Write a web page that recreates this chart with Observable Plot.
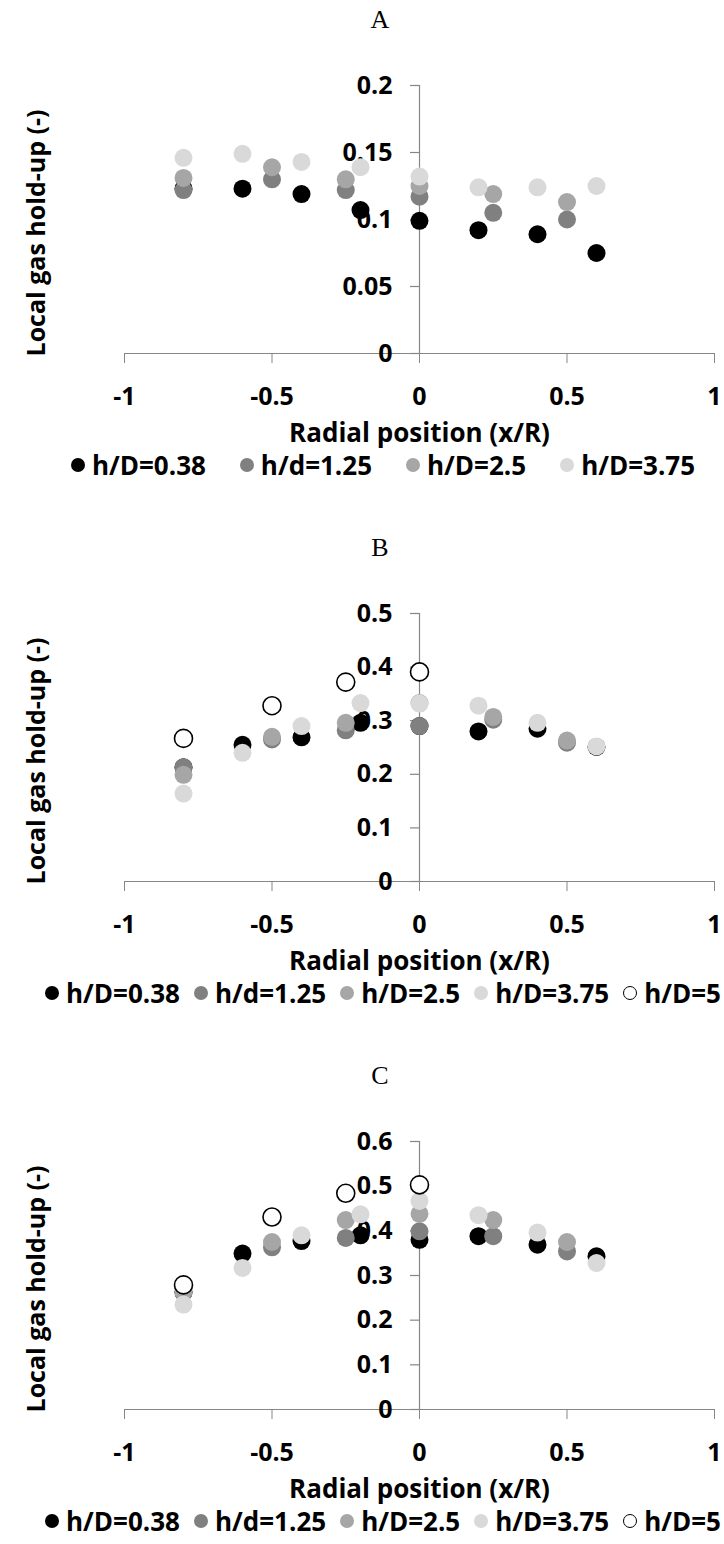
<!DOCTYPE html>
<html>
<head>
<meta charset="utf-8">
<script src="https://cdn.jsdelivr.net/npm/d3@7"></script>
<script src="https://cdn.jsdelivr.net/npm/@observablehq/plot@0.6"></script>
<style>
  html, body { margin: 0; padding: 0; background: #fff; }
  #root { position: relative; width: 724px; height: 1544px; overflow: hidden; background: #fff; }
  .panel { position: absolute; left: 0; width: 724px; height: 488px; }
  .ptitle { position: absolute; left: 0; top: 0; width: 760px; height: 40px; line-height: 40px; text-align: center;
            font-family: "Liberation Serif", "Times New Roman", serif; font-size: 26px; color: #000; }
  .ytitle { position: absolute; left: 35px; top: 233px; width: 0; height: 0; }
  .ytitle span { position: absolute; left: 0; top: 0; transform: translate(-50%, -50%) rotate(-90deg);
            font-family: "Open Sans", sans-serif; font-weight: bold; font-size: 25px; color: #000; white-space: nowrap; line-height: 30px; }
  .legend { position: absolute; left: 0; top: 450px; width: 766px; height: 30px; line-height: 30px; display: flex; justify-content: center;
            align-items: center; font-family: "Open Sans", sans-serif; font-weight: bold; font-size: 26px; color: #000; white-space: nowrap; }
  .item { display: flex; align-items: center; gap: 7px; }
  .sw { display: inline-block; width: 14px; height: 14px; border-radius: 50%; box-sizing: border-box; }
</style>
</head>
<body>
<div id="root"></div>
<script>
// ---- data ----
const xTicks = [-1, -0.5, 0, 0.5, 1];
const seriesNames = ["h/D=0.38", "h/d=1.25", "h/D=2.5", "h/D=3.75", "h/D=5"];
const seriesFill = ["#000000", "#808080", "#a6a6a6", "#d9d9d9", "#ffffff"];
const seriesStroke = ["none", "none", "none", "none", "#000000"];

// radial positions of each series
const xFine = [-0.8, -0.6, -0.4, -0.2, 0, 0.2, 0.4, 0.6];   // h/D=0.38 and h/D=3.75
const xCoarse = [-0.8, -0.5, -0.25, 0, 0.25, 0.5];          // h/d=1.25 and h/D=2.5
const xOpen = [-0.8, -0.5, -0.25, 0];                        // h/D=5

// Panel A
const yTicksA = [0, 0.05, 0.1, 0.15, 0.2];
const A_038 = [0.123, 0.123, 0.119, 0.107, 0.099, 0.092, 0.089, 0.075];
const A_125 = [0.122, 0.130, 0.122, 0.117, 0.105, 0.100];
const A_25  = [0.131, 0.139, 0.130, 0.125, 0.119, 0.113];
const A_375 = [0.146, 0.149, 0.143, 0.139, 0.132, 0.124, 0.124, 0.125];

// Panel B
const yTicksB = [0, 0.1, 0.2, 0.3, 0.4, 0.5];
const B_038 = [0.213, 0.255, 0.269, 0.296, 0.290, 0.280, 0.285, 0.251];
const B_125 = [0.213, 0.265, 0.282, 0.290, 0.302, 0.259];
const B_25  = [0.199, 0.270, 0.296, 0.333, 0.307, 0.263];
const B_375 = [0.164, 0.240, 0.290, 0.333, 0.332, 0.328, 0.296, 0.252];
const B_5   = [0.267, 0.328, 0.372, 0.391];

// Panel C
const yTicksC = [0, 0.1, 0.2, 0.3, 0.4, 0.5, 0.6];
const C_038 = [0.262, 0.349, 0.377, 0.390, 0.380, 0.388, 0.369, 0.343];
const C_125 = [0.262, 0.363, 0.384, 0.399, 0.388, 0.354];
const C_25  = [0.264, 0.375, 0.424, 0.438, 0.424, 0.375];
const C_375 = [0.235, 0.317, 0.390, 0.437, 0.467, 0.435, 0.396, 0.328];
const C_5   = [0.279, 0.431, 0.484, 0.503];

const AXIS = "#868686";
const FONT = "'Open Sans', sans-serif";

function rows(xs, ys) { return ys.map((v, i) => ({x: xs[i], y: v})); }

function makePanel(top, title, series, yTicks, nLegend, legendGap) {
  const panel = document.createElement("div");
  panel.className = "panel";
  panel.style.top = top + "px";

  const t = document.createElement("div");
  t.className = "ptitle";
  t.textContent = title;
  panel.appendChild(t);

  const yMax = yTicks[yTicks.length - 1];
  const dotMarks = series.map((s, k) => Plot.dot(s, {
    x: "x", y: "y", r: 9,
    fill: seriesFill[k], stroke: seriesStroke[k], strokeWidth: 1.6
  }));

  const chart = Plot.plot({
    width: 724, height: 410,
    marginTop: 45, marginBottom: 97, marginLeft: 124, marginRight: 10,
    x: {domain: [-1, 1], axis: null},
    y: {domain: [0, yMax], axis: null},
    style: {fontFamily: FONT, fontSize: "25px", fontWeight: "bold", color: "black", background: "white", overflow: "visible"},
    marks: [
      Plot.ruleY([0], {stroke: AXIS, strokeWidth: 1.2}),
      Plot.ruleX([0], {stroke: AXIS, strokeWidth: 1.2}),
      Plot.axisX(xTicks, {tickSize: 10, tickPadding: 24, stroke: AXIS, label: null,
                          tickFormat: d => String(d), fontSize: 25, fontWeight: "bold"}),
      Plot.ruleY(yTicks, {x1: 0, x2: 0, insetLeft: -9, stroke: AXIS, strokeWidth: 1.2}),
      Plot.text(yTicks, {x: 0, y: d => d, text: d => String(d), textAnchor: "end", dx: -27,
                         fontSize: 25, fontWeight: "bold", fill: "black"}),
      Plot.text(["Radial position (x/R)"], {frameAnchor: "bottom", dy: 80, lineAnchor: "middle",
                         fontSize: 26, fontWeight: "bold", fill: "black"}),
      ...dotMarks
    ]
  });
  chart.style.position = "absolute";
  chart.style.left = "0px";
  chart.style.top = "40px";
  panel.appendChild(chart);

  const yt = document.createElement("div");
  yt.className = "ytitle";
  const ys = document.createElement("span");
  ys.textContent = "Local gas hold-up (-)";
  yt.appendChild(ys);
  panel.appendChild(yt);

  const lg = document.createElement("div");
  lg.className = "legend";
  lg.style.gap = legendGap + "px";
  for (let k = 0; k < nLegend; k++) {
    const it = document.createElement("span");
    it.className = "item";
    const sw = document.createElement("span");
    sw.className = "sw";
    sw.style.background = seriesFill[k];
    if (seriesStroke[k] !== "none") sw.style.border = "1.6px solid " + seriesStroke[k];
    const tx = document.createElement("span");
    tx.textContent = seriesNames[k];
    it.appendChild(sw); it.appendChild(tx);
    lg.appendChild(it);
  }
  panel.appendChild(lg);
  return panel;
}

const root = document.getElementById("root");
root.appendChild(makePanel(0, "A",
  [rows(xFine, A_038), rows(xCoarse, A_125), rows(xCoarse, A_25), rows(xFine, A_375)], yTicksA, 4, 34));
root.appendChild(makePanel(528, "B",
  [rows(xFine, B_038), rows(xCoarse, B_125), rows(xCoarse, B_25), rows(xFine, B_375), rows(xOpen, B_5)], yTicksB, 5, 14));
root.appendChild(makePanel(1056, "C",
  [rows(xFine, C_038), rows(xCoarse, C_125), rows(xCoarse, C_25), rows(xFine, C_375), rows(xOpen, C_5)], yTicksC, 5, 14));
</script>
</body>
</html>
